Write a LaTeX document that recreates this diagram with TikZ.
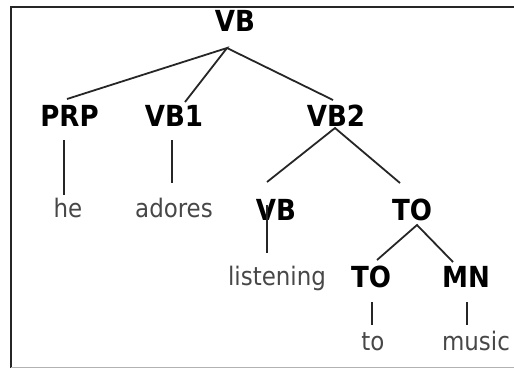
\documentclass[tikz,border=0pt]{standalone}
\usepackage{fontspec}
\newfontfamily\treefont{DejaVu Sans Condensed}
\begin{document}
\begin{tikzpicture}[x=1pt,y=-1pt,
  lab/.style={font=\treefont\bfseries\fontsize{29}{32}\selectfont, inner sep=0pt, anchor=base, text=black},
  word/.style={font=\treefont\fontsize{25.5}{28}\selectfont, inner sep=0pt, anchor=base, text=black!72},
  edge/.style={draw=black!85, line width=1.8pt}]
\useasboundingbox (0,0) rectangle (514,368);
% frame
\draw[black!85, line width=2.6pt] (11,368) -- (11,7) -- (514,7);
\draw[black!30, line width=1pt] (11,367.5) -- (514,367.5);
% labels
\node[lab] (vb)   at (235,31)  {VB};
\node[lab] (prp)  at (69.5,126) {PRP};
\node[lab] (vb1)  at (174,126) {VB1};
\node[lab] (vb2)  at (336,126) {VB2};
\node[lab] (vbb)  at (276,220) {VB};
\node[lab] (to)   at (412,220) {TO};
\node[lab] (tob)  at (371,287) {TO};
\node[lab] (mn)   at (466,287) {MN};
% words
\node[word] (he)  at (68,217) {he};
\node[word] (ad)  at (174,217) {adores};
\node[word] (li)  at (277,285) {listening};
\node[word] (tw)  at (373,350) {to};
\node[word] (mu)  at (476,350) {music};
% junctions
\coordinate (j1) at (227,48);
\coordinate (j2) at (335,128);
\coordinate (j3) at (417,225);
\coordinate (prpT) at (67,99);
\coordinate (vb1T) at (185,102);
\coordinate (vb2T) at (333,100);
\coordinate (vbbT) at (267,182);
\coordinate (toT) at (400,183);
\coordinate (tobT) at (377,260);
\coordinate (mnT) at (453,262);
% connectors
\draw[edge] (prpT) -- (j1) -- (vb1T);
\draw[edge] (j1) -- (vb2T);
\draw[edge] (vbbT) -- (j2) -- (toT);
\draw[edge] (tobT) -- (j3) -- (mnT);
\draw[edge] (64,140) -- (64,195);
\draw[edge] (172,140) -- (172,183);
\draw[edge] (267,205) -- (267,253);
\draw[edge] (372,302) -- (372,325);
\draw[edge] (467,302) -- (467,325);
\end{tikzpicture}
\end{document}
